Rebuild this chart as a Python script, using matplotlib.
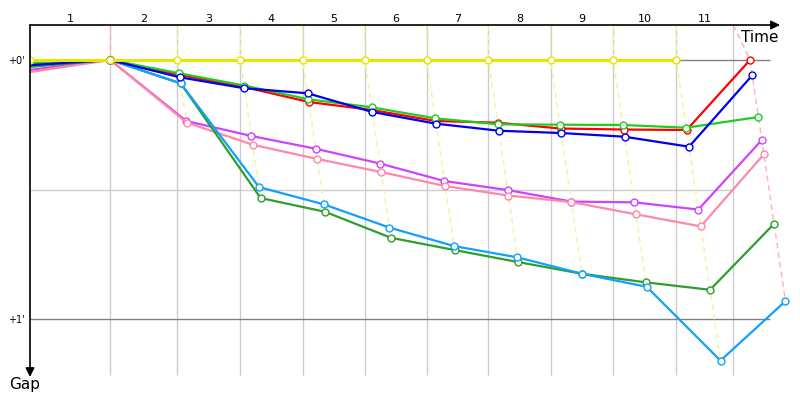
import numpy as np
import matplotlib
matplotlib.use("Agg")
import matplotlib.pyplot as plt

# leader's cumulative time (s) when each lap is closed, lap 0 = start
leader_times = [0, 126.5, 232.0, 331.2, 429.4, 527.1, 624.7, 722.0, 819.7, 918.6, 1017.8, 1133.9]
# grey reference lines for laps 1..11
lap_marks = [126.5, 232.0, 331.2, 429.4, 527.1, 624.7, 722.0, 819.7, 918.6, 1017.8, 1107.6]
lap_labels = [str(i) for i in range(1, 12)]
lap_leaders = ["red"] + ["yellow"] * 9 + ["red"]

# gap to leader (s) per lap, laps 0..11
gaps = {
    "purple":  [2.3, 0, 14.13, 17.60, 20.55, 23.97, 28.03, 30.11, 32.78, 32.96, 34.63, 18.53],
    "pink":    [2.8, 0, 14.48, 19.62, 22.93, 25.94, 29.19, 31.39, 32.89, 35.74, 38.52, 21.84],
    "dkgreen": [1.6, 0, 5.44, 31.97, 35.14, 41.16, 44.01, 46.79, 49.50, 51.49, 53.21, 37.92],
    "cyan":    [0.9, 0, 5.40, 29.42, 33.43, 38.80, 43.09, 45.70, 49.50, 52.51, 69.61, 55.83],
    "red":     [0.4, 0, 3.47, 6.25, 9.73, 11.58, 14.13, 14.52, 15.87, 16.10, 16.21, 0.0],
    "green":   [0.7, 0, 3.08, 5.91, 9.10, 10.95, 13.51, 14.89, 14.98, 15.05, 15.68, 13.20],
    "blue":    [1.2, 0, 4.01, 6.55, 7.71, 12.04, 14.75, 16.38, 16.91, 17.77, 20.08, 3.54],
    "yellow":  [0, 0, 0, 0, 0, 0, 0, 0, 0, 0, 0, np.nan],
}

colors = {
    "pink": "#ff88aa", "purple": "#cc44ff", "dkgreen": "#2e9e2e", "cyan": "#11a0ff",
    "red": "#ff0000", "green": "#22cc22", "blue": "#0000ee", "yellow": "#e6e600",
}
faded = {"red": "#ffb0b0", "yellow": "#f2f2a0"}

fig = plt.figure(figsize=(8, 4), dpi=100)
ax = fig.add_axes([30 / 800, 23 / 400, 770 / 800, 352 / 400])
ax.set_xlim(0, 1212.6)
ax.set_ylim(73.4, -8.1)
for s in ax.spines.values():
    s.set_visible(False)
ax.set_xticks([])
ax.set_yticks([0, 60], ["+0'", "+1'"])
ax.tick_params(axis="y", length=0, pad=4, labelsize=7)

# grid
ax.vlines(lap_marks, -8.1, 73.0, color="#cccccc", lw=1, zorder=1)
ax.hlines([0, 60], 0, 1165, color="#808080", lw=1, zorder=1)
ax.hlines(30, 0, lap_marks[-1], color="#cccccc", lw=1, zorder=1)

# x position of each point = leader time + gap
xs = {}
for name, g in gaps.items():
    g = np.array(g, dtype=float)
    x = np.array(leader_times) + g
    x[0] = 0
    xs[name] = x

# lap lines through every driver's lap-k point
for k in range(1, 12):
    pts = [(xs[n][k], gaps[n][k]) for n in gaps if not np.isnan(gaps[n][k])]
    pts.sort(key=lambda p: p[1])
    px = [lap_marks[k - 1]] + [p[0] for p in pts]
    py = [-8.1] + [p[1] for p in pts]
    ax.plot(px, py, color=faded[lap_leaders[k - 1]], lw=1, ls=(0, (4, 3)), zorder=2)

for name, g in gaps.items():
    first = 0 if name == "yellow" else 1
    ax.plot(xs[name], g, color=colors[name], lw=2.2 if name == "yellow" else 1.6,
            marker="o", ms=5, markevery=slice(first, None),
            mfc="white", mec=colors[name], mew=1, zorder=3)

# lap numbers above the time axis
edges = [0] + lap_marks
for i, lab in enumerate(lap_labels):
    ax.text((edges[i] + edges[i + 1]) / 2, -9.6, lab, ha="center", va="center",
            fontsize=8, clip_on=False)

# axes arrows
arrow = dict(arrowstyle="-|>", lw=1.2, color="black", mutation_scale=13, shrinkA=0, shrinkB=0)
ax.annotate("", xy=(750 / 770, 1), xytext=(0, 1), xycoords="axes fraction", arrowprops=arrow)
ax.annotate("", xy=(0, 0), xytext=(0, 1), xycoords="axes fraction", arrowprops=arrow)
ax.text(0.972, 0.965, "Time", transform=ax.transAxes, ha="right", va="center", fontsize=11)
fig.text(25 / 800, 1 - 385 / 400, "Gap", ha="center", va="center", fontsize=11)

fig.savefig("out.png", dpi=100)
